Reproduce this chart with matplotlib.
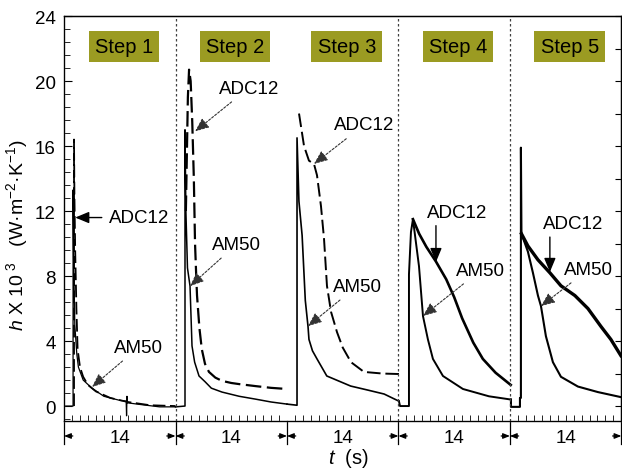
import matplotlib.pyplot as plt
import matplotlib.transforms as mtransforms
from matplotlib.ticker import MultipleLocator

plt.rcParams['font.family'] = 'Liberation Sans'
plt.rcParams['mathtext.fontset'] = 'custom'
plt.rcParams['mathtext.rm'] = 'Liberation Sans'
plt.rcParams['mathtext.it'] = 'Liberation Sans:italic'

# step labels and length of each step (s)
steps = ['Step 1', 'Step 2', 'Step 3', 'Step 4', 'Step 5']
step_len = 14

# values, t in s, h in 10^3 W/m2K
s1_adc_t = [1.25, 1.25, 1.3, 1.4, 1.55, 1.7, 2.0, 2.4, 3.0, 4.0, 5.8, 8.0, 10.8, 14.0]
s1_adc_h = [0.0, 16.4, 13.0, 9.5, 6.0, 3.5, 2.4, 1.8, 1.3, 0.9, 0.5, 0.25, 0.05, 0.0]
s1_am_t = [0.0, 1.13, 1.13, 1.2, 1.35, 1.6, 1.8, 2.4, 3.5, 5.0, 7.0, 7.8, 7.85, 7.9, 7.95, 9.5, 12.0, 14.0]
s1_am_h = [0.0, 0.0, 13.3, 9.0, 5.0, 3.2, 2.4, 1.6, 1.1, 0.6, 0.35, 0.3, -0.6, 0.6, 0.2, 0.1, -0.05, -0.05]

s2_adc_t = [15.3, 15.55, 15.7, 15.9, 16.1, 16.3, 16.45, 16.6, 16.7, 17.0, 17.3, 17.7, 18.2, 19.0, 19.84, 21.0, 22.0, 24.0, 26.0, 28.0]
s2_adc_h = [12.0, 19.0, 20.7, 20.0, 17.5, 14.0, 10.0, 8.0, 6.8, 4.8, 3.5, 2.6, 2.1, 1.75, 1.55, 1.42, 1.35, 1.23, 1.12, 1.05]
s2_am_t = [14.0, 15.19, 15.19, 15.3, 15.5, 15.82, 16.07, 16.4, 16.95, 17.7, 18.5, 19.84, 22.0, 24.0, 26.0, 28.0]
s2_am_h = [-0.05, 0.0, 17.0, 12.0, 8.5, 7.38, 3.7, 2.7, 1.85, 1.5, 1.1, 0.86, 0.6, 0.43, 0.25, 0.12]

s3_adc_t = [29.51, 30.14, 30.76, 31.39, 31.77, 32.27, 32.65, 33.02, 33.53, 34.28, 35.0, 36.04, 37.67, 40.0, 42.1]
s3_adc_h = [18.0, 16.0, 15.1, 14.9, 14.2, 12.3, 10.3, 7.4, 5.8, 4.55, 3.6, 2.7, 2.1, 2.0, 1.97]
s3_am_t = [28.0, 29.26, 29.26, 29.5, 29.9, 30.3, 30.64, 30.76, 31.2, 31.77, 33.0, 36.0, 38.0, 40.2, 42.06]
s3_am_h = [0.12, 0.05, 16.5, 12.6, 10.5, 6.5, 4.9, 4.1, 3.4, 2.9, 1.85, 1.23, 1.0, 0.74, 0.3]

s4_adc_t = [43.82, 44.6, 45.5, 46.7, 48.0, 49.0, 50.0, 51.4, 52.6, 54.2, 56.1]
s4_adc_h = [11.5, 10.6, 9.8, 8.9, 7.8, 6.7, 5.4, 3.9, 2.9, 2.05, 1.3]
s4_am_t = [42.06, 42.2, 43.32, 43.32, 43.57, 43.82, 44.58, 45.08, 45.7, 46.33, 47.59, 50.1, 53.37, 56.13]
s4_am_h = [0.3, 0.0, 0.0, 8.1, 10.7, 11.5, 8.6, 5.54, 4.1, 2.9, 1.85, 1.05, 0.6, 0.4]

s5_adc_t = [57.45, 58.26, 59.52, 61.02, 62.41, 64.16, 65.8, 67.43, 68.68, 69.94]
s5_adc_h = [10.6, 9.85, 9.0, 8.2, 7.4, 6.8, 6.0, 4.9, 4.1, 3.1]
s5_am_t = [56.13, 56.13, 57.26, 57.26, 57.38, 57.38, 57.45, 58.26, 58.89, 59.52, 59.9, 60.52, 61.4, 62.41, 64.54, 67.05, 69.94]
s5_am_h = [0.4, -0.05, -0.05, 0.5, 0.5, 15.9, 10.6, 9.5, 8.2, 6.8, 6.15, 4.3, 2.7, 1.8, 1.2, 0.86, 0.55]

fig = plt.figure(figsize=(6.22, 4.77), dpi=100)
ax = fig.add_axes([0.103, 0.1153, 0.896, 0.849])

dash = (0, (7, 2.5))
ax.plot(s1_adc_t, s1_adc_h, color='k', lw=1.3, ls=dash)
ax.plot(s1_am_t, s1_am_h, color='k', lw=0.9)
ax.plot(s2_adc_t, s2_adc_h, color='k', lw=1.6, ls=dash)
ax.plot(s2_am_t, s2_am_h, color='k', lw=1.1)
ax.plot(s3_adc_t, s3_adc_h, color='k', lw=1.4, ls=dash)
ax.plot(s3_am_t, s3_am_h, color='k', lw=1.2)
ax.plot(s4_adc_t, s4_adc_h, color='k', lw=1.9)
ax.plot(s4_am_t, s4_am_h, color='k', lw=1.4)
ax.plot(s5_adc_t, s5_adc_h, color='k', lw=2.4)
ax.plot(s5_am_t, s5_am_h, color='k', lw=1.5)

ax.set_xlim(0, 5 * step_len)
ax.set_ylim(-0.92, 24)

# dotted step dividers
for d in [14, 42, 56]:
    ax.axvline(d, color='0.25', lw=0.9, ls=(0, (2, 2)))

# step labels
for i, s in enumerate(steps):
    ax.text(step_len * i + 7.5, 22.1, s, fontsize=14.5, ha='center', va='center',
            bbox=dict(boxstyle='square,pad=0.3', fc='#9b9b22', ec='none'))

# annotations
dotted = dict(arrowstyle='-|>,head_length=0.6,head_width=0.25', mutation_scale=14,
              color='0.2', lw=0.8, ls=(0, (2, 1.5)), shrinkA=3, shrinkB=0)
solid = dict(arrowstyle='-|>,head_length=0.6,head_width=0.25', mutation_scale=14,
             color='k', lw=1.0, shrinkA=3, shrinkB=0)
fs = 13.5
ax.annotate('ADC12', xy=(1.4, 11.6), xytext=(9.4, 11.6), fontsize=fs, ha='center', va='center', arrowprops=solid)
ax.annotate('AM50', xy=(3.5, 1.17), xytext=(9.4, 3.63), fontsize=fs, ha='center', va='center', arrowprops=dotted)
ax.annotate('ADC12', xy=(16.45, 16.9), xytext=(23.2, 19.57), fontsize=fs, ha='center', va='center', arrowprops=dotted)
ax.annotate('AM50', xy=(15.82, 7.38), xytext=(21.7, 9.97), fontsize=fs, ha='center', va='center', arrowprops=dotted)
ax.annotate('ADC12', xy=(31.39, 14.9), xytext=(37.67, 17.3), fontsize=fs, ha='center', va='center', arrowprops=dotted)
ax.annotate('AM50', xy=(30.64, 4.92), xytext=(36.8, 7.38), fontsize=fs, ha='center', va='center', arrowprops=dotted)
ax.text(49.35, 11.88, 'ADC12', fontsize=fs, ha='center', va='center')
ax.annotate('', xy=(46.71, 8.86), xytext=(46.71, 11.1), arrowprops=dict(solid, shrinkA=0))
ax.annotate('AM50', xy=(45.08, 5.54), xytext=(52.36, 8.37), fontsize=fs, ha='center', va='center', arrowprops=dotted)
ax.text(63.9, 11.26, 'ADC12', fontsize=fs, ha='center', va='center')
ax.annotate('', xy=(61.02, 8.25), xytext=(61.02, 10.4), arrowprops=dict(solid, shrinkA=0))
ax.annotate('AM50', xy=(59.9, 6.15), xytext=(65.92, 8.43), fontsize=fs, ha='center', va='center', arrowprops=dotted)

# ticks
ax.yaxis.set_major_locator(MultipleLocator(4))
ax.yaxis.set_minor_locator(MultipleLocator(0.8))
ax.xaxis.set_major_locator(MultipleLocator(14))
ax.xaxis.set_minor_locator(MultipleLocator(1))
ax.tick_params(axis='both', which='both', direction='in')
ax.tick_params(axis='y', which='major', length=6, labelsize=13.5, pad=6)
ax.tick_params(axis='y', which='minor', length=4)
ax.tick_params(axis='x', which='major', length=0, labelbottom=False)
ax.tick_params(axis='x', which='minor', length=4)
ax2 = ax.twinx()
ax2.set_ylim(ax.get_ylim())
ax2.yaxis.set_major_locator(MultipleLocator(2))
ax2.tick_params(axis='y', direction='in', length=4, labelright=False)
for sp in ax.spines.values():
    sp.set_linewidth(1.0)
ax.spines['left'].set_color('0.35')
ax.spines['bottom'].set_color('0.35')

# dimension marks under the axis
trans = mtransforms.blended_transform_factory(ax.transData, ax.transAxes)
for i in range(6):
    d = step_len * i
    ax.plot([d, d], [0, -0.057], transform=trans, color='k', lw=0.9, clip_on=False)
    if i < 5:
        ax.annotate('', xy=(d, -0.037), xytext=(d + 1.1, -0.037), xycoords=trans, textcoords=trans,
                    arrowprops=dict(arrowstyle='-|>,head_length=0.5,head_width=0.2', mutation_scale=8,
                                    color='k', lw=0.9, shrinkA=0, shrinkB=0), annotation_clip=False)
        ax.text(d + 7, -0.04, '14', transform=trans, fontsize=13.5, ha='center', va='center')
    if i > 0:
        ax.annotate('', xy=(d, -0.037), xytext=(d - 1.1, -0.037), xycoords=trans, textcoords=trans,
                    arrowprops=dict(arrowstyle='-|>,head_length=0.5,head_width=0.2', mutation_scale=8,
                                    color='k', lw=0.9, shrinkA=0, shrinkB=0), annotation_clip=False)

ax.text(35.66, -0.091, '$t$  (s)', transform=trans, fontsize=14.5, ha='center', va='center')
ax.set_ylabel('$h$ X 10$^{\\ 3}$   (W·m$^{-2}$·K$^{-1}$)', fontsize=14)
ax.yaxis.set_label_coords(-0.062, 0.462)

fig.savefig('out.png', dpi=100)
